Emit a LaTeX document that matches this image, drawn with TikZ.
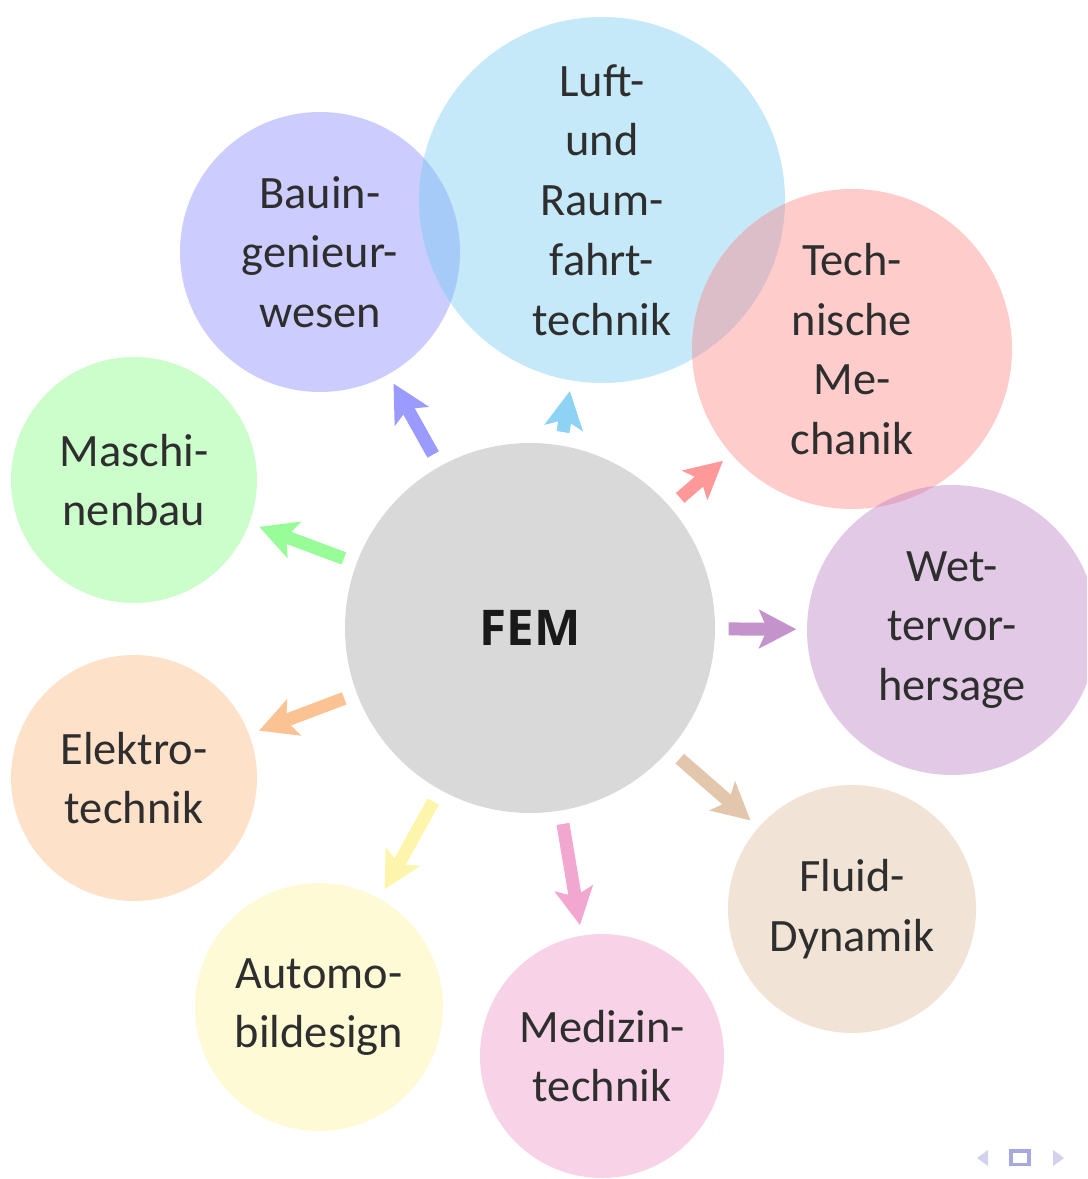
\documentclass[tikz,border=0pt]{standalone}
\usepackage{fontspec}
\setmainfont{Carlito}
\newfontfamily\femfont{Open Sans}
\usepackage{xcolor}
\usetikzlibrary{arrows.meta}

\definecolor{femc}{HTML}{D9D9D9}
\definecolor{bauc}{HTML}{8080FF}
\definecolor{luftc}{HTML}{71C8F0}
\definecolor{mechc}{HTML}{FF7F7F}
\definecolor{wetc}{HTML}{B678BE}
\definecolor{fluidc}{HTML}{DCB998}
\definecolor{medc}{HTML}{ED91C3}
\definecolor{autoc}{HTML}{FCF296}
\definecolor{elekc}{HTML}{FAB478}
\definecolor{maschc}{HTML}{7FFC7F}
\definecolor{txt}{HTML}{2E2E2E}
\definecolor{navc}{HTML}{D2D2EE}
\definecolor{navbox}{HTML}{A8A8E0}

\begin{document}
\begin{tikzpicture}[font=\fontsize{13.2}{17}\selectfont,
 bub/.style={circle,inner sep=0pt,align=center,fill opacity=0.4,text opacity=1,text=txt},
 planet/.style={circle,inner sep=0pt,align=center,fill=femc,minimum size=3.7cm,font=\fontsize{14}{17}\selectfont\femfont\bfseries,text=black!90},
 line/.style={-{Stealth[length=3.7mm,width=3.8mm,inset=0.8mm]},line width=1.3mm,shorten <=1.3mm,shorten >=1mm}]
\useasboundingbox (0,0) rectangle (10.87,-11.79);
\clip (0,0) rectangle (10.87,-11.79);
\node[planet] (fem) at (5.30,-6.28) {FEM};
\node[bub,fill=bauc,minimum size=2.8cm] (bau) at (3.20,-2.52) {Bauin-\\genieur-\\wesen};
\node[bub,fill=luftc,minimum size=3.66cm] (luft) at (6.02,-2.00) {Luft-\\und\\Raum-\\fahrt-\\technik};
\node[bub,fill=mechc,minimum size=3.2cm] (mech) at (8.52,-3.49) {Tech-\\nische\\Me-\\chanik};
\node[bub,fill=wetc,minimum size=2.9cm] (wet) at (9.52,-6.30) {Wet-\\tervor-\\hersage};
\node[bub,fill=fluidc,minimum size=2.48cm] (fluid) at (8.52,-9.09) {Fluid-\\Dynamik};
\node[bub,fill=medc,minimum size=2.44cm] (med) at (6.02,-10.56) {Medizin-\\technik};
\node[bub,fill=autoc,minimum size=2.48cm] (auto) at (3.19,-10.07) {Automo-\\bildesign};
\node[bub,fill=elekc,minimum size=2.46cm] (elek) at (1.34,-7.78) {Elektro-\\technik};
\node[bub,fill=maschc,minimum size=2.46cm] (masch) at (1.34,-4.80) {Maschi-\\nenbau};
\draw[line,bauc!80!white] (fem)--(bau);
\draw[line,luftc!80!white] (fem)--(luft);
\draw[line,mechc!80!white] (fem)--(mech);
\draw[line,wetc!80!white] (fem)--(wet);
\draw[line,fluidc!80!white] (fem)--(fluid);
\draw[line,medc!80!white] (fem)--(med);
\draw[line,autoc!80!white] (fem)--(auto);
\draw[line,elekc!80!white] (fem)--(elek);
\draw[line,maschc!80!white] (fem)--(masch);
\fill[navc] (9.77,-11.58) -- (9.88,-11.50) -- (9.88,-11.66) -- cycle;
\draw[navbox,line width=0.9pt] (10.11,-11.51) rectangle (10.29,-11.645);
\fill[navc] (10.64,-11.58) -- (10.53,-11.50) -- (10.53,-11.66) -- cycle;
\end{tikzpicture}
\end{document}
